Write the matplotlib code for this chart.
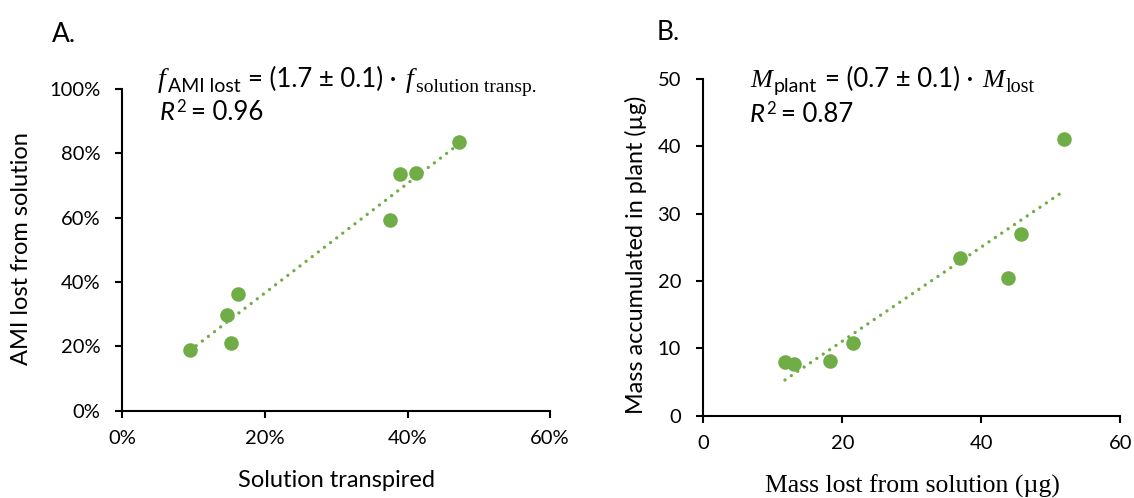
import numpy as np
import matplotlib
matplotlib.use('Agg')
import matplotlib.pyplot as plt
from matplotlib.ticker import PercentFormatter
from matplotlib.transforms import IdentityTransform

# panel A: fraction of solution transpired vs AMI lost (%)
transpired = [9.5, 15.2, 14.7, 16.2, 37.5, 39.0, 41.2, 47.2]
ami_lost = [18.9, 21.0, 29.7, 36.2, 59.3, 73.5, 73.8, 83.4]

# panel B: mass lost from solution vs mass in plant (ug)
mass_lost = [11.75, 13.05, 18.2, 21.5, 36.9, 43.9, 45.7, 51.9]
mass_plant = [7.9, 7.6, 8.1, 10.85, 23.4, 20.5, 27.0, 41.1]

green = '#70AD47'
W, H = 1134, 498

plt.rcParams['font.family'] = 'Lato'

fig = plt.figure(figsize=(W / 100, H / 100), dpi=100)
ax1 = fig.add_axes([0.1079, 0.1753, 0.3772, 0.646])
ax2 = fig.add_axes([0.6202, 0.1653, 0.3677, 0.6762])
renderer = fig.canvas.get_renderer()
px = IdentityTransform()


def scatter_with_trend(ax, x, y):
    ax.scatter(x, y, s=110, color=green, zorder=2, linewidths=0)
    slope, icpt = np.polyfit(x, y, 1)
    xs = np.array([min(x), max(x)])
    ax.plot(xs, slope * xs + icpt, color=green, lw=2.4,
            linestyle=(0, (0.01, 2.3)), dash_capstyle='round', zorder=3)


def style_axes(ax):
    for side in ['top', 'right']:
        ax.spines[side].set_visible(False)
    for side in ['left', 'bottom']:
        ax.spines[side].set_linewidth(1.5)
    ax.tick_params(direction='out', length=5, width=1.5, labelsize=14.5)
    ax.tick_params(axis='x', pad=9)
    ax.tick_params(axis='y', pad=11)


def rich_text(x, y, pieces):
    # pieces: (text, size, family, style, dy in px, gap after in px)
    y = H - y
    for s, size, family, style, dy, gap in pieces:
        t = fig.text(x, y + dy, s, transform=px, fontsize=size,
                     family=family, style=style, ha='left', va='baseline')
        x += t.get_window_extent(renderer).width + gap


scatter_with_trend(ax1, transpired, ami_lost)
ax1.set_xlim(0, 60)
ax1.set_ylim(0, 100)
ax1.set_xticks([0, 20, 40, 60])
ax1.set_yticks([0, 20, 40, 60, 80, 100])
ax1.xaxis.set_major_formatter(PercentFormatter(100, decimals=0))
ax1.yaxis.set_major_formatter(PercentFormatter(100, decimals=0))
style_axes(ax1)

scatter_with_trend(ax2, mass_lost, mass_plant)
ax2.set_xlim(0, 60)
ax2.set_ylim(0, 50)
ax2.set_xticks([0, 20, 40, 60])
ax2.set_yticks([0, 10, 20, 30, 40, 50])
style_axes(ax2)

# axis titles
fig.text(22 / W, 1 - 249 / H, 'AMI lost from solution', rotation=90,
         ha='center', va='center', fontsize=17)
fig.text(336 / W, 1 - 480 / H, 'Solution transpired', ha='center',
         va='center', fontsize=17)
fig.text(636 / W, 1 - 255 / H, 'Mass accumulated in plant (\u00b5g)',
         rotation=90, ha='center', va='center', fontsize=16.8)
fig.text(912 / W, 1 - 486 / H, 'Mass lost from solution (\u00b5g)',
         ha='center', va='center', fontsize=18.5, family='Liberation Serif')

# panel letters
fig.text(52 / W, 1 - 35 / H, 'A.', ha='left', va='center', fontsize=19)
fig.text(657 / W, 1 - 33 / H, 'B.', ha='left', va='center', fontsize=19)

serif = 'Liberation Serif'
sans = 'Lato'

# regression equations
rich_text(158, 87, [
    ('f', 20, serif, 'italic', 0, 2),
    ('AMI lost', 14, sans, 'normal', -5, 8),
    ('= (1.7 \u00b1 0.1) \u00b7', 18.5, sans, 'normal', 0, 9),
    ('f', 20, serif, 'italic', 0, 2),
    ('solution transp.', 14, serif, 'normal', -5, 0),
])
rich_text(160, 120, [
    ('R', 18.5, sans, 'italic', 0, 1),
    ('2', 12, sans, 'normal', 8, 5),
    ('= 0.96', 18.5, sans, 'normal', 0, 0),
])
rich_text(750, 87, [
    ('M', 19, serif, 'italic', 0, 2),
    ('plant', 14, sans, 'normal', -5, 8),
    ('= (0.7 \u00b1 0.1) \u00b7', 18.5, sans, 'normal', 0, 9),
    ('M', 19, serif, 'italic', 0, 1),
    ('lost', 14.5, serif, 'normal', -5, 0),
])
rich_text(750, 122, [
    ('R', 18.5, sans, 'italic', 0, 1),
    ('2', 12, sans, 'normal', 8, 5),
    ('= 0.87', 18.5, sans, 'normal', 0, 0),
])

fig.savefig('out.png', dpi=100)
